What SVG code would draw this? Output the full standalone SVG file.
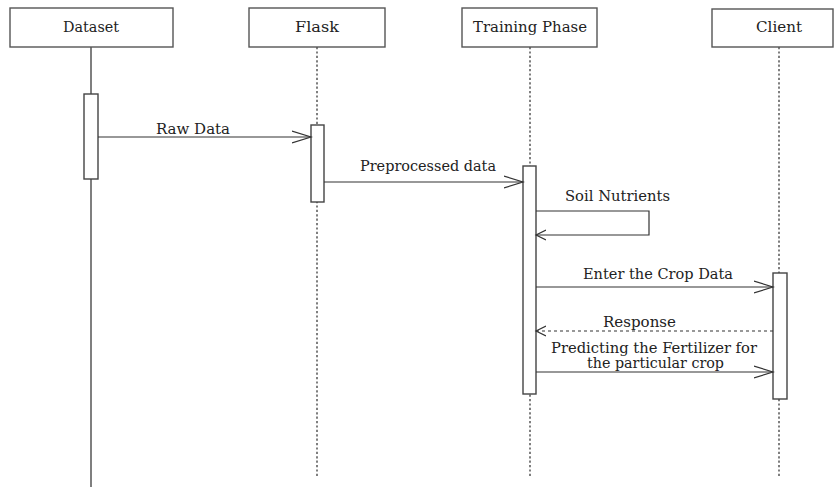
<svg xmlns="http://www.w3.org/2000/svg" width="835" height="487" viewBox="0 0 835 487">
  <style>
    .box { fill: #fff; stroke: #555; stroke-width: 1.4; }
    .act { fill: #fff; stroke: #444; stroke-width: 1.4; }
    .life { stroke: #555; stroke-width: 1.5; fill: none; }
    .dot { stroke-dasharray: 2.2 2.2; }
    .msg { stroke: #333; stroke-width: 1.2; fill: none; }
    .dash { stroke-dasharray: 3 3; }
    .lbl { fill: #222; font-size: 14px; font-family: "DejaVu Serif", serif; }
    .hdr { text-anchor: middle; }
  </style>
  <defs>
    <marker id="open" markerUnits="userSpaceOnUse" markerWidth="22" markerHeight="16" refX="19" refY="7" orient="auto">
      <path d="M0,1 L19,7 L0,13" fill="none" stroke="#333" stroke-width="1.2"/>
    </marker>
    <marker id="openSmall" markerUnits="userSpaceOnUse" markerWidth="14" markerHeight="14" refX="10" refY="6" orient="auto">
      <path d="M0,1 L10,6 L0,11" fill="none" stroke="#333" stroke-width="1.2"/>
    </marker>
  </defs>

  <!-- lifelines -->
  <g id="lifelines">
    <line class="life" x1="91" y1="47" x2="91" y2="487"/>
    <line class="life dot" x1="317" y1="47" x2="317" y2="478"/>
    <line class="life dot" x1="530" y1="47" x2="530" y2="478"/>
    <line class="life dot" x1="779" y1="47" x2="779" y2="478"/>
  </g>

  <g id="dataset">
    <rect class="box" x="10" y="8" width="163" height="39"/>
    <text class="lbl hdr" x="91" y="32" textLength="56" lengthAdjust="spacingAndGlyphs">Dataset</text>
    <rect class="act" x="84" y="94" width="14" height="85"/>
  </g>

  <g id="flask">
    <rect class="box" x="249" y="8" width="136" height="39"/>
    <text class="lbl hdr" x="317" y="32" textLength="44" lengthAdjust="spacingAndGlyphs">Flask</text>
    <rect class="act" x="311" y="125" width="13" height="77"/>
  </g>

  <g id="training">
    <rect class="box" x="462" y="8" width="135" height="39"/>
    <text class="lbl hdr" x="530" y="32" textLength="114" lengthAdjust="spacingAndGlyphs">Training Phase</text>
    <rect class="act" x="523" y="166" width="13" height="228"/>
  </g>

  <g id="client">
    <rect class="box" x="712" y="9" width="121" height="38"/>
    <text class="lbl hdr" x="779" y="32" textLength="46" lengthAdjust="spacingAndGlyphs">Client</text>
    <rect class="act" x="773" y="273" width="14" height="126"/>
  </g>

  <!-- messages -->
  <g id="connectors">
    <line class="msg" x1="98" y1="137" x2="311" y2="137" marker-end="url(#open)"/>
    <line class="msg" x1="324" y1="182" x2="523" y2="182" marker-end="url(#open)"/>
    <polyline class="msg" points="536,211 649,211 649,235 536,235" marker-end="url(#openSmall)"/>
    <line class="msg" x1="536" y1="287" x2="773" y2="287" marker-end="url(#open)"/>
    <line class="msg dash" x1="773" y1="331" x2="536" y2="331" marker-end="url(#openSmall)"/>
    <line class="msg" x1="536" y1="372" x2="773" y2="372" marker-end="url(#open)"/>
  </g>

  <g id="labels">
    <text class="lbl" x="156" y="134" textLength="74" lengthAdjust="spacingAndGlyphs">Raw Data</text>
    <text class="lbl" x="360" y="171" textLength="136" lengthAdjust="spacingAndGlyphs">Preprocessed data</text>
    <text class="lbl" x="565" y="201" textLength="105" lengthAdjust="spacingAndGlyphs">Soil Nutrients</text>
    <text class="lbl" x="583" y="279" textLength="150" lengthAdjust="spacingAndGlyphs">Enter the Crop Data</text>
    <text class="lbl" x="603" y="327" textLength="73" lengthAdjust="spacingAndGlyphs">Response</text>
    <text class="lbl" x="551" y="353" textLength="206" lengthAdjust="spacingAndGlyphs">Predicting the Fertilizer for</text>
    <text class="lbl" x="587" y="368" textLength="137" lengthAdjust="spacingAndGlyphs">the particular crop</text>
  </g>
</svg>
